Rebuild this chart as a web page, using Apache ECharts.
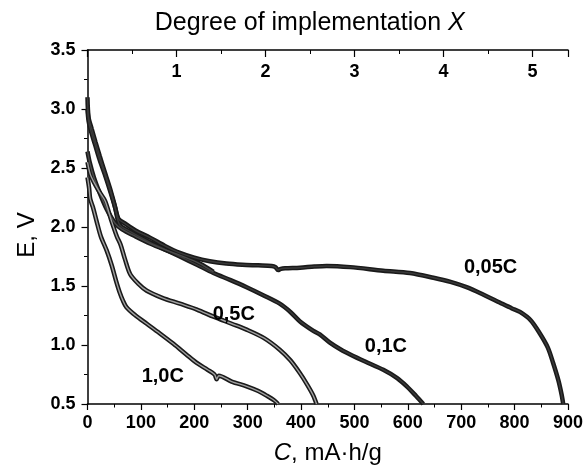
<!DOCTYPE html>
<html>
<head>
<meta charset="utf-8">
<script src="https://cdn.jsdelivr.net/npm/echarts@6/dist/echarts.min.js"></script>
<style>html,body{margin:0;padding:0;background:#fff}#c{width:588px;height:470px}</style>
</head>
<body>
<div id="c"></div>
<script>
// 0.05C
const c005C = [0, 2, 8, 15, 23, 32, 42, 50, 58, 70, 90, 117, 145, 173, 200, 229, 260, 290, 320, 345, 352, 357, 362, 370, 398, 425, 448, 492, 554, 604, 648, 680, 710, 740, 772, 795, 810, 830, 847, 862, 872, 882, 888, 891];
const c005E = [3.10, 2.93, 2.83, 2.72, 2.60, 2.47, 2.33, 2.20, 2.07, 2.03, 1.97, 1.91, 1.84, 1.78, 1.74, 1.71, 1.69, 1.68, 1.675, 1.67, 1.66, 1.635, 1.645, 1.65, 1.655, 1.665, 1.67, 1.66, 1.63, 1.61, 1.57, 1.535, 1.49, 1.43, 1.36, 1.31, 1.28, 1.21, 1.10, 0.98, 0.85, 0.70, 0.58, 0.50];
// 0.1C
const c01C = [0, 2, 6, 14, 22, 32, 42, 52, 60, 80, 117, 145, 173, 205, 236, 268, 298, 330, 360, 380, 398, 423, 435, 454, 475, 492, 520, 554, 580, 598, 615, 629];
const c01E = [3.00, 2.90, 2.82, 2.70, 2.58, 2.45, 2.31, 2.16, 2.02, 1.96, 1.87, 1.81, 1.75, 1.68, 1.61, 1.55, 1.49, 1.42, 1.35, 1.28, 1.20, 1.12, 1.09, 1.02, 0.96, 0.92, 0.86, 0.79, 0.72, 0.65, 0.57, 0.50];
// extra (unlabelled) curve merging into the bundle
const cXC = [0, 4, 12, 21, 35, 52, 65, 90, 117, 150, 179, 210, 236];
const cXE = [2.64, 2.55, 2.42, 2.31, 2.16, 2.03, 1.98, 1.92, 1.86, 1.80, 1.75, 1.69, 1.62];
// 0.5C
const c05C = [0, 5, 12, 22, 33, 45, 55, 62, 70, 80, 95, 111, 140, 173, 205, 236, 270, 298, 330, 360, 380, 398, 412, 423, 429];
const c05E = [2.55, 2.45, 2.38, 2.30, 2.22, 2.05, 1.92, 1.85, 1.73, 1.60, 1.52, 1.46, 1.40, 1.35, 1.30, 1.24, 1.18, 1.13, 1.06, 0.96, 0.87, 0.76, 0.66, 0.57, 0.50];
// 1.0C
const c10C = [0, 3, 5, 10, 17, 25, 36, 45, 55, 60, 66, 73, 90, 111, 135, 161, 185, 204, 225, 238, 242, 246, 270, 298, 320, 336, 350, 357];
const c10E = [2.42, 2.33, 2.24, 2.17, 2.05, 1.92, 1.80, 1.68, 1.52, 1.45, 1.38, 1.32, 1.25, 1.18, 1.10, 1.01, 0.92, 0.85, 0.79, 0.75, 0.71, 0.74, 0.69, 0.65, 0.61, 0.57, 0.53, 0.50];

const curveLabels = ['0,05C', '0,1C', '0,5C', '1,0C'];
const labelC = [755, 559, 274, 141];
const labelE = [1.66, 0.985, 1.26, 0.73];

const xTicks = [0, 100, 200, 300, 400, 500, 600, 700, 800, 900];
const yTicks = [0.5, 1.0, 1.5, 2.0, 2.5, 3.0, 3.5];
const degreeTicks = [1, 2, 3, 4, 5];
const capacityPerDegree = 166.7;

const pairs = (xs, ys) => xs.map((x, i) => [x, ys[i]]);
const curves = [
  {d: pairs(c005C, c005E), core: '#3a3a3a'},
  {d: pairs(c01C, c01E), core: '#3a3a3a'},
  {d: pairs(cXC, cXE), core: '#4a4a4a'},
  {d: pairs(c05C, c05E), core: '#a0a0a0'},
  {d: pairs(c10C, c10E), core: '#a0a0a0'}
];

const series = [];
curves.forEach(c => {
  series.push({type: 'line', data: c.d, showSymbol: false, smooth: 0.3, silent: true,
    lineStyle: {color: '#1a1a1a', width: 4.5}, z: 2});
  series.push({type: 'line', data: c.d, showSymbol: false, smooth: 0.3, silent: true,
    lineStyle: {color: c.core, width: 1.4}, z: 3});
});
series.push({
  type: 'scatter', symbolSize: 1, silent: true, z: 5,
  itemStyle: {opacity: 0},
  data: curveLabels.map((t, i) => ({value: [labelC[i], labelE[i]], name: t})),
  label: {show: true, position: 'inside', formatter: p => p.name, opacity: 1,
    textBorderWidth: 0, textShadowBlur: 0,
    fontFamily: 'Liberation Sans, Arial, sans-serif', fontWeight: 'bold', fontSize: 20, color: '#000'}
});

const tickFont = {fontFamily: 'Liberation Sans, Arial, sans-serif', fontWeight: 'bold', fontSize: 18, color: '#000'};
const nameFont = (size, padding) => ({fontFamily: 'Liberation Sans, Arial, sans-serif', fontSize: size, color: '#000', padding: padding,
  rich: {i: {fontFamily: 'Liberation Sans, Arial, sans-serif', fontStyle: 'italic', fontSize: size, color: '#000'}}});

const chart = echarts.init(document.getElementById('c'), null, {renderer: 'canvas'});
chart.setOption({
  animation: false,
  backgroundColor: '#fff',
  grid: {left: 87.5, right: 20, top: 50, bottom: 61},
  xAxis: [{
    type: 'value', min: xTicks[0], max: xTicks[xTicks.length - 1], interval: 100,
    position: 'bottom',
    name: '{i|C}, mA·h/g', nameLocation: 'middle', nameGap: 37, nameTextStyle: nameFont(24, [0, 0, 0, 0]),
    axisLine: {show: true, onZero: false, lineStyle: {color: '#000', width: 1.5}},
    axisTick: {show: true, inside: false, length: 6, lineStyle: {color: '#000', width: 1.2}},
    minorTick: {show: true, splitNumber: 2, length: 3.5, lineStyle: {color: '#000', width: 1}},
    axisLabel: Object.assign({margin: 10}, tickFont),
    splitLine: {show: false}
  }, {
    type: 'value', min: 0, max: xTicks[xTicks.length - 1] / capacityPerDegree, interval: 1,
    position: 'top',
    name: 'Degree of implementation {i|X}', nameLocation: 'middle', nameGap: 14,
    nameTextStyle: nameFont(25, [0, 36, 0, 0]),
    axisLine: {show: true, onZero: false, lineStyle: {color: '#000', width: 1.5}},
    axisTick: {show: true, inside: true, length: 7, lineStyle: {color: '#000', width: 1.2}},
    minorTick: {show: true, splitNumber: 2, length: 4, lineStyle: {color: '#000', width: 1}},
    axisLabel: Object.assign({inside: true, margin: 13,
      formatter: v => degreeTicks.includes(Math.round(v * 1000) / 1000) ? String(Math.round(v)) : ''}, tickFont),
    splitLine: {show: false}
  }],
  yAxis: {
    type: 'value', min: yTicks[0], max: yTicks[yTicks.length - 1], interval: 0.5,
    name: 'E, V', nameLocation: 'middle', nameGap: 48, nameRotate: 90,
    nameTextStyle: nameFont(24, [0, 16, 0, 0]),
    axisLine: {show: true, onZero: false, lineStyle: {color: '#000', width: 1.5}},
    axisTick: {show: true, inside: false, length: 6, lineStyle: {color: '#000', width: 1.2}},
    minorTick: {show: true, splitNumber: 2, length: 3.5, lineStyle: {color: '#000', width: 1}},
    axisLabel: Object.assign({margin: 12, formatter: v => v.toFixed(1)}, tickFont),
    splitLine: {show: false}
  },
  series: series
});
</script>
</body>
</html>
